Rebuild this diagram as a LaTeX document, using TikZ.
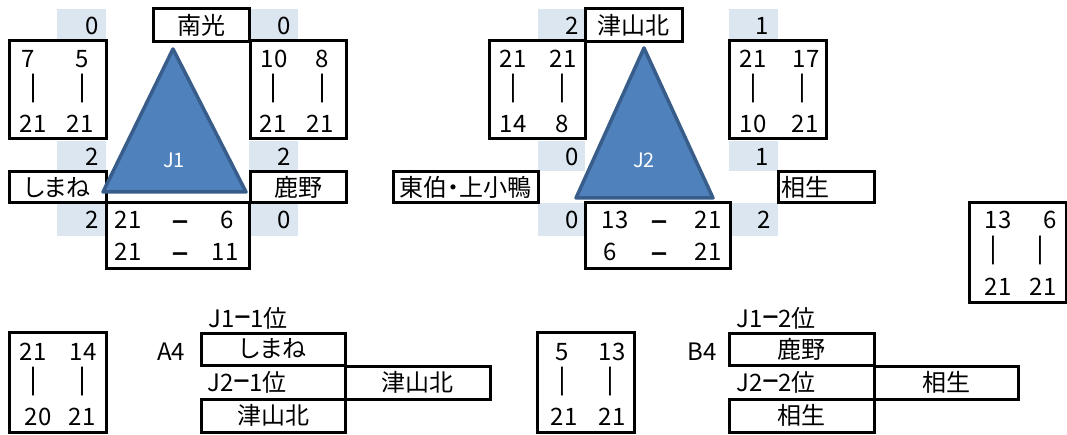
\documentclass[tikz,border=0pt]{standalone}
\usepackage{fontspec}
\setmainfont[RawFeature={+palt}]{Noto Sans CJK JP}
\newfontfamily\barfont[FakeBold=2.5]{Noto Sans CJK JP}
\newfontfamily\hyfont[FakeBold=1.2]{Noto Sans CJK JP}
\definecolor{bandc}{HTML}{DCE6F1}
\definecolor{trifill}{HTML}{4F81BD}
\definecolor{triedge}{HTML}{385D8A}
\newcommand{\fs}{\fontsize{24}{28}\selectfont}
\newcommand{\fj}{\fontsize{20}{24}\selectfont}
\newcommand{\vb}{{\barfont\fontsize{28}{28}\selectfont ｜}}
\newcommand{\mn}{{\barfont\fontsize{28}{28}\selectfont −}}
\newcommand{\hy}{{\hyfont\fontsize{28}{28}\selectfont −}}
\tikzset{
  tx/.style={inner sep=0pt, outer sep=0pt, font=\fs, text=black},
  mnode/.style={inner sep=0pt, outer sep=0pt, font=\fs, anchor=base},
  nb/.style={inner sep=0pt, outer sep=0pt, font=\fs, anchor=east},
  box/.style={draw=black, line width=3pt, inner sep=0pt, outer sep=0pt, font=\fs},
  band/.style={fill=bandc, draw=none},
  tri/.style={fill=trifill, draw=triedge, line width=3.5pt, line join=round},
  jlab/.style={inner sep=0pt, font=\fj, text=white}
}
\begin{document}
\begin{tikzpicture}[x=1pt,y=-1pt]
\useasboundingbox (0,0) rectangle (1067,435);
% ---------------- shaded bands ----------------
\foreach \xa/\xb in {57/106, 249/298, 538/585, 729/778}{
  \fill[bandc] (\xa,9) rectangle (\xb,40);
  \fill[bandc] (\xa,141) rectangle (\xb,171);
  \fill[bandc] (\xa,203) rectangle (\xb,236);
}
% ---------------- J1 ----------------
\node[nb] (a1) at (99,26) {0};
\node[nb] (a2) at (99,157) {2};
\node[nb] (a3) at (99,220) {2};
\node[nb] (b1) at (291,26) {0};
\node[nb] (b2) at (291,157) {2};
\node[nb] (b3) at (291,220) {0};

\node[box, minimum width=96pt, minimum height=33pt] (nanko) at (201,25.5) {南光};
\node[box, minimum width=97pt, minimum height=98pt] (s1l) at (57.5,90) {};
\node[tx] at (28,59) {7};   \node[tx] at (82,59) {5};
\node[tx] at (33,88) {\vb};  \node[tx] at (82,88) {\vb};
\node[tx] at (33,124) {21}; \node[tx] at (80,124) {21};
\node[box, minimum width=96pt, minimum height=98pt] (s1r) at (298,90) {};
\node[tx] at (274,59) {10}; \node[tx] at (322,59) {8};
\node[tx] at (273,88) {\vb}; \node[tx] at (322,88) {\vb};
\node[tx] at (273,124) {21};\node[tx] at (320,124) {21};
\node[box, minimum width=97pt, minimum height=31pt] (shimane) at (57.5,187.5) {しまね};
\node[box, minimum width=96pt, minimum height=31pt] (shikano) at (298,187.5) {鹿野};
\node[box, minimum width=143pt, minimum height=66pt] (s1b) at (177.5,236) {};
\node[tx] at (128,220) {21}; \node[mnode] at (180,232) {\mn}; \node[tx] at (227,220) {6};
\node[tx] at (128,252) {21}; \node[mnode] at (180,264) {\mn}; \node[tx] at (225,252) {11};
\draw[tri] (173,49) -- (246,192) -- (103,192) -- cycle;
\node[jlab] (j1) at (174,160) {J1};
% ---------------- J2 ----------------
\node[nb] (c1) at (579,26) {2};
\node[nb] (c2) at (579,157) {0};
\node[nb] (c3) at (579,220) {0};
\node[nb] (d1) at (769,26) {1};
\node[nb] (d2) at (769,157) {1};
\node[nb] (d3) at (771,220) {2};

\node[box, minimum width=97pt, minimum height=33pt] (tsuyama) at (633.5,25.5) {津山北};
\node[box, minimum width=96pt, minimum height=98pt] (s2l) at (537,90) {};
\node[tx] at (513,59) {21}; \node[tx] at (563,59) {21};
\node[tx] at (513,88) {\vb}; \node[tx] at (562,88) {\vb};
\node[tx] at (513,124) {14};\node[tx] at (562,124) {8};
\node[box, minimum width=97pt, minimum height=98pt] (s2r) at (777.5,90) {};
\node[tx] at (753,59) {21}; \node[tx] at (806,59) {17};
\node[tx] at (753,88) {\vb}; \node[tx] at (802,88) {\vb};
\node[tx] at (753,124) {10};\node[tx] at (805,124) {21};
\node[box, minimum width=145pt, minimum height=31pt] (touhaku) at (465.5,187.5) {東伯・上小鴨};
\node[box, minimum width=96pt, minimum height=31pt, text width=90pt, align=left] (aioi) at (826,187.5) {相生};
\node[box, minimum width=145pt, minimum height=66pt] (s2b) at (657.5,236) {};
\node[tx] at (615,220) {13}; \node[mnode] at (659,232) {\mn}; \node[tx] at (708,220) {21};
\node[tx] at (610,252) {6};  \node[mnode] at (659,264) {\mn}; \node[tx] at (708,252) {21};
\draw[tri] (644,48) -- (713,198) -- (576,198) -- cycle;
\node[jlab] (j2) at (644,160) {J2};
% ---------------- right extra box ----------------
\node[box, minimum width=97pt, minimum height=100pt] (s3) at (1017.5,253) {};
\node[tx] at (998,220) {13}; \node[tx] at (1050,220) {6};
\node[tx] at (993,250) {\vb}; \node[tx] at (1040,250) {\vb};
\node[tx] at (998,287) {21}; \node[tx] at (1043,287) {21};
% ---------------- bottom left ----------------
\node[box, minimum width=97pt, minimum height=100pt] (s4) at (57.5,382) {};
\node[tx] at (33,352) {21}; \node[tx] at (83,352) {14};
\node[tx] at (33,381) {\vb}; \node[tx] at (82,381) {\vb};
\node[tx] at (38,417) {20}; \node[tx] at (82,417) {21};
\node[tx] (a4) at (171,352) {A4};
\node[tx, anchor=base] (j11) at (248,327) {J1\hy1位};
\node[box, minimum width=144pt, minimum height=32pt] (shimane2) at (273,349) {しまね};
\node[tx, anchor=base] (j21) at (247,391) {J2\hy1位};
\node[box, minimum width=145pt, minimum height=33pt] (tsuyama2) at (417.5,382.5) {津山北};
\node[box, minimum width=144pt, minimum height=33pt] (tsuyama3) at (273,415.5) {津山北};
% ---------------- bottom right ----------------
\node[box, minimum width=97pt, minimum height=100pt] (s5) at (585.5,382) {};
\node[tx] at (562,352) {5};  \node[tx] at (612,352) {13};
\node[tx] at (562,381) {\vb}; \node[tx] at (610,381) {\vb};
\node[tx] at (564,417) {21}; \node[tx] at (612,417) {21};
\node[tx] (b4) at (702,352) {B4};
\node[tx, anchor=base] (j12) at (776,327) {J1\hy2位};
\node[box, minimum width=145pt, minimum height=32pt] (shikano2) at (801.5,349) {鹿野};
\node[tx, anchor=base] (j22) at (776,391) {J2\hy2位};
\node[box, minimum width=144pt, minimum height=33pt] (aioi2) at (946,382.5) {相生};
\node[box, minimum width=145pt, minimum height=33pt] (aioi3) at (801.5,415.5) {相生};
\end{tikzpicture}
\end{document}
